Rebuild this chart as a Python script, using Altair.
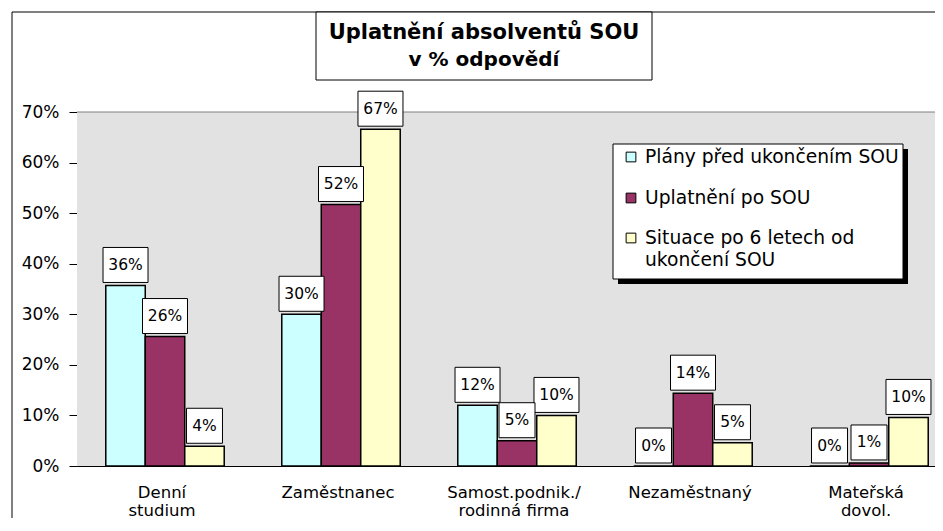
import altair as alt
import pandas as pd

# ---- data ----
categories = ["Denní\nstudium", "Zaměstnanec", "Samost.podnik./\nrodinná firma",
              "Nezaměstnaný", "Mateřská\ndovol."]
series = ["Plány před ukončením SOU", "Uplatnění po SOU",
          "Situace po 6 letech od ukončení SOU"]
plany = [0.357, 0.300, 0.120, 0.000, 0.000]
uplatneni = [0.256, 0.517, 0.050, 0.144, 0.006]
situace = [0.039, 0.666, 0.100, 0.046, 0.096]
colors = ["#CCFFFF", "#993366", "#FFFFCC"]
y_ticks = [0.0, 0.1, 0.2, 0.3, 0.4, 0.5, 0.6, 0.7]
legend_lines = [["Plány před ukončením SOU"], ["Uplatnění po SOU"],
                ["Situace po 6 letech od", "ukončení SOU"]]
title_lines = ["Uplatnění absolventů SOU", "v % odpovědí"]

rows = []
for s, vals in zip(series, [plany, uplatneni, situace]):
    for c, v in zip(categories, vals):
        rows.append({"category": c, "series": s, "value": v,
                     "label": f"{int(v * 100 + 0.5)}%"})
df = pd.DataFrame(rows)

FONT = "DejaVu Sans"
W, H = 858, 354

x_enc = alt.X("category:N", sort=categories,
              scale=alt.Scale(range=[0, 880], paddingInner=0.327, paddingOuter=0.1635),
              axis=alt.Axis(title=None, ticks=False, labelPadding=18, labelAngle=0,
                            labelFontSize=16.5, labelFont=FONT, labelColor="black",
                            labelOffset=-3,
                            domainColor="black", domainWidth=1,
                            labelExpr="split(datum.label, '\\n')", labelLineHeight=18))
xo_enc = alt.XOffset("series:N", sort=series, scale=alt.Scale(paddingInner=0, paddingOuter=0))
y_enc = alt.Y("value:Q", scale=alt.Scale(domain=[0, 0.7], nice=False),
              axis=alt.Axis(title=None, values=y_ticks, format=".0%", tickSize=8,
                            labelPadding=10, labelFontSize=17, labelFont=FONT,
                            labelColor="black", domainColor="black", tickColor="black",
                            grid=False))
color_enc = alt.Color("series:N", scale=alt.Scale(domain=series, range=colors), legend=None)

base = alt.Chart(df)

bars = base.mark_bar(stroke="black", strokeWidth=1.5).encode(
    x=x_enc, xOffset=xo_enc, y=y_enc, color=color_enc)

box_wide = base.transform_filter("length(datum.label) == 3").mark_point(
    shape="M-1,-0.778L1,-0.778L1,0.778L-1,0.778Z", size=45 * 45, filled=True,
    fill="white", stroke="black", strokeWidth=1, opacity=1, yOffset=-20.5
).encode(x=x_enc, xOffset=xo_enc, y=y_enc)

box_narrow = base.transform_filter("length(datum.label) <= 2").mark_point(
    shape="M-1,-0.972L1,-0.972L1,0.972L-1,0.972Z", size=36 * 36, filled=True,
    fill="white", stroke="black", strokeWidth=1, opacity=1, yOffset=-20.5
).encode(x=x_enc, xOffset=xo_enc, y=y_enc)

label_text = base.mark_text(font=FONT, fontSize=15.5, color="black", baseline="middle",
                            align="center", yOffset=-20.5).encode(
    x=x_enc, xOffset=xo_enc, y=y_enc, text="label:N")

one = alt.Chart(pd.DataFrame({"a": [0]}))

# plot area background
plot_bg = one.mark_rect(fill="#E2E2E2").encode(
    x=alt.value(0), x2=alt.value(880), y=alt.value(0), y2=alt.value(H))

# plot area top border
top_rule = one.mark_rule(color="#808080", strokeWidth=1).encode(
    x=alt.value(0), x2=alt.value(880), y=alt.value(0))

# outer chart border (left and top)
outer_left = one.mark_rule(color="black", strokeWidth=1).encode(
    x=alt.value(-65), y=alt.value(-100), y2=alt.value(H + 60))
outer_top = one.mark_rule(color="black", strokeWidth=1).encode(
    x=alt.value(-65), x2=alt.value(900), y=alt.value(-100))

# title box
title_box = one.mark_rect(fill="white", stroke="black", strokeWidth=1).encode(
    x=alt.value(239), x2=alt.value(575), y=alt.value(-100), y2=alt.value(-32))
title_1 = one.mark_text(font=FONT, fontSize=21, fontWeight="bold", color="black",
                        align="center", baseline="middle").encode(
    x=alt.value(407), y=alt.value(-79), text=alt.value(title_lines[0]))
title_2 = one.mark_text(font=FONT, fontSize=20, fontWeight="bold", color="black",
                        align="center", baseline="middle").encode(
    x=alt.value(407), y=alt.value(-52), text=alt.value(title_lines[1]))

# legend
leg_shadow = one.mark_rect(fill="black").encode(
    x=alt.value(541), x2=alt.value(831), y=alt.value(37), y2=alt.value(172))
leg_box = one.mark_rect(fill="white", stroke="black", strokeWidth=1).encode(
    x=alt.value(536), x2=alt.value(826), y=alt.value(32), y2=alt.value(167))
leg_layers = []
item_y = [45, 86, 126]
for j, lines in enumerate(legend_lines):
    leg_layers.append(one.mark_square(size=95, filled=True, fill=colors[j], stroke="black",
                                      strokeWidth=1, opacity=1).encode(
        x=alt.value(554), y=alt.value(item_y[j])))
    for k, line in enumerate(lines):
        leg_layers.append(one.mark_text(font=FONT, fontSize=18.7, color="black", align="left",
                                        baseline="middle").encode(
            x=alt.value(568), y=alt.value(item_y[j] + 22 * k), text=alt.value(line)))

chart = alt.layer(
    plot_bg, top_rule, outer_left, outer_top, bars, box_wide, box_narrow, label_text,
    leg_shadow, leg_box, *leg_layers, title_box, title_1, title_2
).properties(
    width=W, height=H,
    padding={"left": 69, "top": 104, "right": 0, "bottom": 52},
    autosize=alt.AutoSizeParams(type="none"),
    background="white",
).configure_view(stroke=None).configure(font=FONT)

chart.save("out.html", embed_options={"renderer": "svg", "actions": False})
